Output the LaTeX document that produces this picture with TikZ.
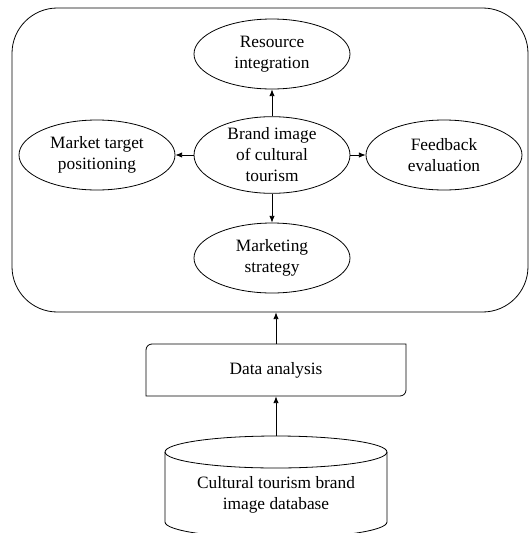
\documentclass[tikz,border=0pt]{standalone}
\usepackage{fontspec}
\setmainfont{Liberation Serif}
\usetikzlibrary{arrows.meta,shapes.geometric}
\begin{document}
\begin{tikzpicture}[x=0.75pt,y=-0.75pt,
  every node/.style={font=\fontsize{13pt}{15.75pt}\selectfont, align=center},
  oval/.style={draw, ellipse, minimum width=117pt, minimum height=52.5pt, inner sep=0pt, line width=0.6pt},
  conn/.style={line width=0.6pt, -{Latex[length=5pt,width=4pt]}},
  line width=0.6pt]
\useasboundingbox (0,0) rectangle (530,533);
\clip (0,0) rectangle (530,533);
\node[draw, rounded corners=34pt, minimum width=387pt, minimum height=228pt, inner sep=0pt] (outer) at (270,160) {};
\node[oval] (res) at (272,54) {Resource\\integration};
\node[oval] (brand) at (272,155) {Brand image\\of cultural\\tourism};
\node[oval] (mkt) at (97,155) {Market target\\positioning};
\node[oval] (fb) at (444,155) {Feedback\\evaluation};
\node[oval] (ms) at (272,258) {Marketing\\strategy};
\draw[conn] (brand) -- (res);
\draw[conn] (brand) -- (mkt);
\draw[conn] (brand) -- (fb);
\draw[conn] (brand) -- (ms);
% data analysis
\draw (146,396) -- (146,350) arc[start angle=180,end angle=270,radius=6] -- (406,344) -- (406,390) arc[start angle=0,end angle=90,radius=6] -- cycle;
\node[minimum width=195pt, minimum height=39pt, inner sep=0pt] (data) at (276,370) {Data analysis};
\draw[conn] (data.north) -- (data.north |- outer.south);
% cylinder
\draw (276,452) ellipse[x radius=111, y radius=16];
\draw (165,452) -- (165,522) arc[start angle=180,end angle=0,x radius=111,y radius=16] -- (387,452);
\coordinate (dbtop) at (276,436);
\node (db) at (276,495) {Cultural tourism brand\\image database};
\draw[conn] (dbtop) -- (data.south);
\end{tikzpicture}
\end{document}
